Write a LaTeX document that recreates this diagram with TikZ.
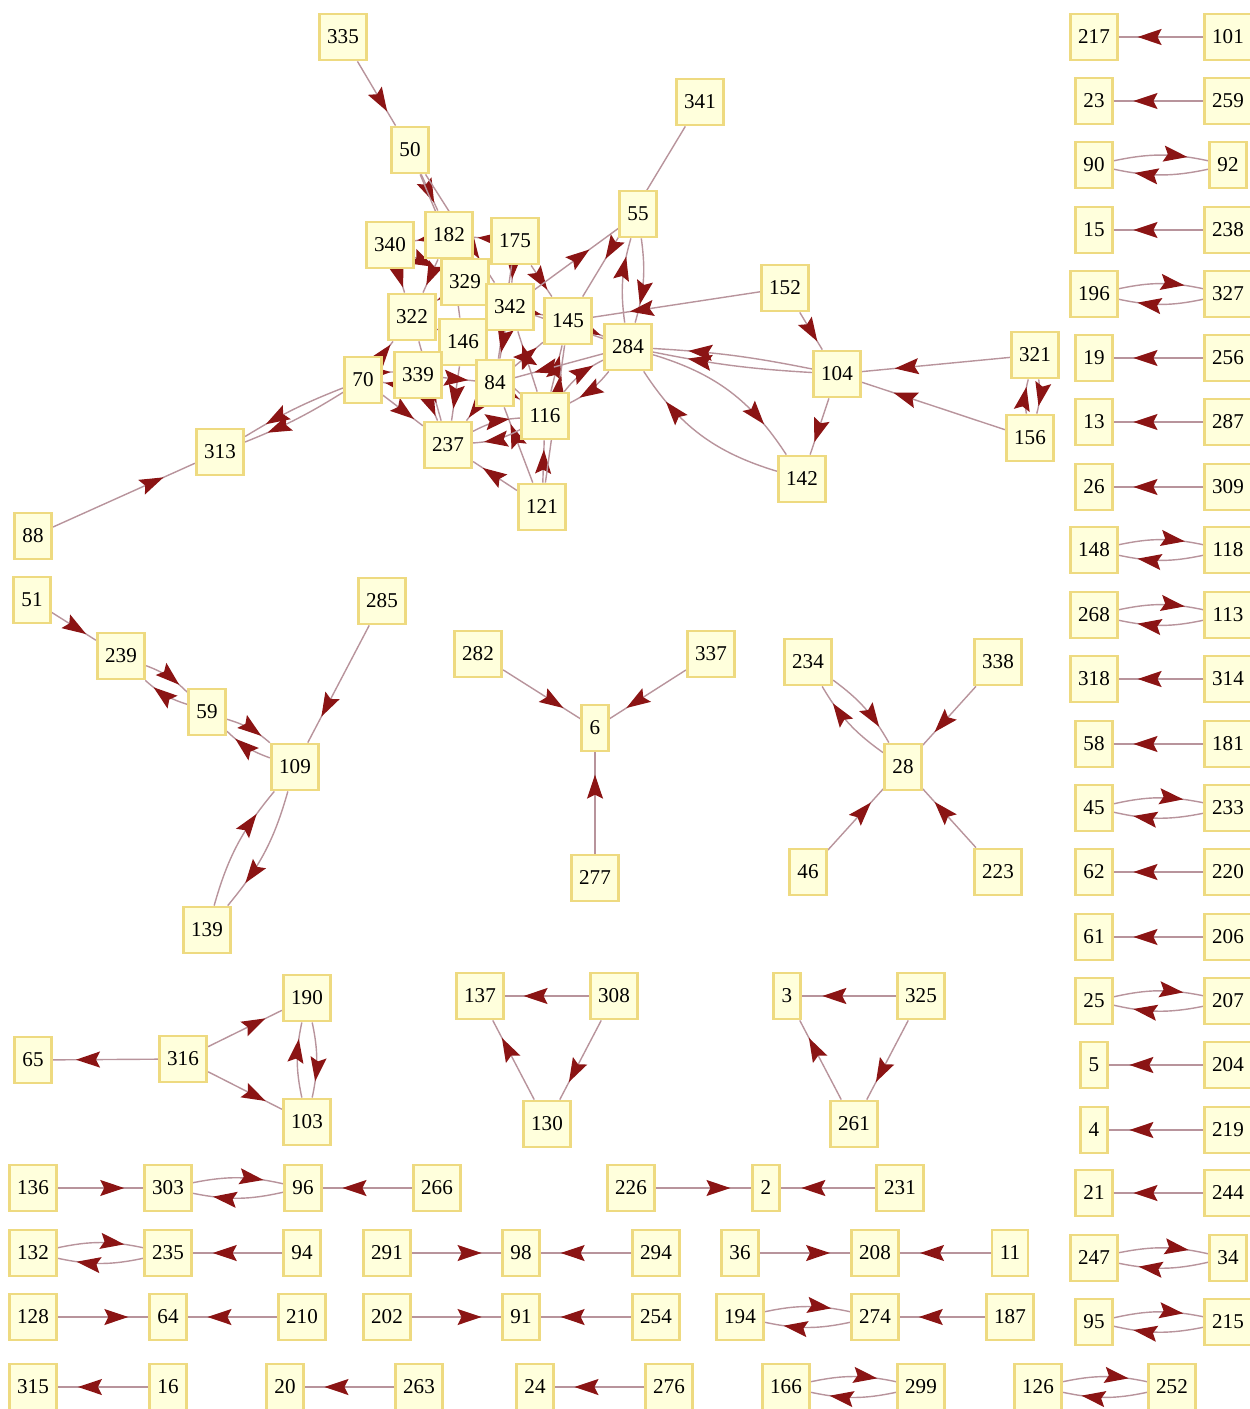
\documentclass[tikz,border=0pt]{standalone}
\usepackage{fontspec}
\setmainfont{Liberation Serif}
\usepackage{tikz}
\usetikzlibrary{arrows.meta,decorations.markings,backgrounds}

\definecolor{boxfill}{HTML}{FFFFDC}
\definecolor{boxline}{HTML}{EEDA80}
\definecolor{edgeline}{HTML}{B8949C}
\definecolor{tipred}{HTML}{8B1414}

\begin{document}
\begin{tikzpicture}[x=0.02cm,y=-0.02cm,
  vert/.style={draw=boxline,line width=1.6pt,fill=boxfill,minimum height=0.92cm,
    minimum width=0.5cm,inner xsep=4.5pt,font=\fontsize{12}{14}\selectfont},
  link/.style={draw=edgeline,line width=0.8pt,postaction={decorate},
    decoration={markings,mark=at position 0.78 with
      {\arrow{Stealth[length=4.8mm,width=3.2mm,inset=0.8mm,color=tipred]}}}},
  twin/.style={link,bend left=12}]
\useasboundingbox (0,0) rectangle (1249,1409);
% big component
\node[vert] (n335) at (343,37) {335};
\node[vert] (n50) at (410,150) {50};
\node[vert] (n341) at (700,102) {341};
\node[vert] (n55) at (638,214) {55};
\node[vert] (n340) at (390,245) {340};
\node[vert] (n182) at (449,235) {182};
\node[vert] (n175) at (515,241) {175};
\node[vert] (n329) at (465,282) {329};
\node[vert] (n342) at (510,307) {342};
\node[vert] (n322) at (412,317) {322};
\node[vert] (n145) at (568,321) {145};
\node[vert] (n146) at (463,342) {146};
\node[vert] (n284) at (628,347) {284};
\node[vert] (n152) at (785,288) {152};
\node[vert] (n104) at (837,374) {104};
\node[vert] (n321) at (1035,355) {321};
\node[vert] (n156) at (1030,438) {156};
\node[vert] (n142) at (802,479) {142};
\node[vert] (n70) at (363,380) {70};
\node[vert] (n339) at (418,375) {339};
\node[vert] (n84) at (495,383) {84};
\node[vert] (n116) at (545,416) {116};
\node[vert] (n237) at (448,445) {237};
\node[vert] (n121) at (542,507) {121};
\node[vert] (n313) at (220,452) {313};
\node[vert] (n88) at (33,536) {88};
% middle groups
\node[vert] (n51) at (32,600) {51};
\node[vert] (n239) at (121,656) {239};
\node[vert] (n59) at (207,712) {59};
\node[vert] (n109) at (295,767) {109};
\node[vert] (n285) at (382,601) {285};
\node[vert] (n139) at (207,930) {139};
\node[vert] (n282) at (478,654) {282};
\node[vert] (n337) at (711,654) {337};
\node[vert] (n6) at (595,728) {6};
\node[vert] (n277) at (595,878) {277};
\node[vert] (n234) at (808,662) {234};
\node[vert] (n338) at (998,662) {338};
\node[vert] (n28) at (903,767) {28};
\node[vert] (n46) at (808,872) {46};
\node[vert] (n223) at (998,872) {223};
\node[vert] (n65) at (33,1060) {65};
\node[vert] (n316) at (183,1059) {316};
\node[vert] (n190) at (307,998) {190};
\node[vert] (n103) at (307,1122) {103};
\node[vert] (n137) at (480,996) {137};
\node[vert] (n308) at (614,996) {308};
\node[vert] (n130) at (547,1124) {130};
\node[vert] (n3) at (787,996) {3};
\node[vert] (n325) at (921,996) {325};
\node[vert] (n261) at (854,1124) {261};
% bottom rows
\node[vert] (n136) at (33,1188) {136};
\node[vert] (n303) at (168,1188) {303};
\node[vert] (n96) at (303,1188) {96};
\node[vert] (n266) at (437,1188) {266};
\node[vert] (n226) at (631,1188) {226};
\node[vert] (n2) at (766,1188) {2};
\node[vert] (n231) at (900,1188) {231};
\node[vert] (n132) at (33,1253) {132};
\node[vert] (n235) at (168,1253) {235};
\node[vert] (n94) at (302,1253) {94};
\node[vert] (n291) at (387,1253) {291};
\node[vert] (n98) at (521,1253) {98};
\node[vert] (n294) at (656,1253) {294};
\node[vert] (n36) at (740,1253) {36};
\node[vert] (n208) at (875,1253) {208};
\node[vert] (n11) at (1010,1253) {11};
\node[vert] (n128) at (33,1317) {128};
\node[vert] (n64) at (168,1317) {64};
\node[vert] (n210) at (302,1317) {210};
\node[vert] (n202) at (387,1317) {202};
\node[vert] (n91) at (521,1317) {91};
\node[vert] (n254) at (656,1317) {254};
\node[vert] (n194) at (740,1317) {194};
\node[vert] (n274) at (875,1317) {274};
\node[vert] (n187) at (1010,1317) {187};
\node[vert] (n315) at (33,1387) {315};
\node[vert] (n16) at (168,1387) {16};
\node[vert] (n20) at (285,1387) {20};
\node[vert] (n263) at (419,1387) {263};
\node[vert] (n24) at (535,1387) {24};
\node[vert] (n276) at (669,1387) {276};
\node[vert] (n166) at (786,1387) {166};
\node[vert] (n299) at (921,1387) {299};
\node[vert] (n126) at (1038,1387) {126};
\node[vert] (n252) at (1172,1387) {252};
% right column
\node[vert] (n217) at (1094,37) {217};
\node[vert] (n101) at (1228,37) {101};
\node[vert] (n23) at (1094,101) {23};
\node[vert] (n259) at (1228,101) {259};
\node[vert] (n90) at (1094,165) {90};
\node[vert] (n92) at (1228,165) {92};
\node[vert] (n15) at (1094,230) {15};
\node[vert] (n238) at (1228,230) {238};
\node[vert] (n196) at (1094,294) {196};
\node[vert] (n327) at (1228,294) {327};
\node[vert] (n19) at (1094,358) {19};
\node[vert] (n256) at (1228,358) {256};
\node[vert] (n13) at (1094,422) {13};
\node[vert] (n287) at (1228,422) {287};
\node[vert] (n26) at (1094,487) {26};
\node[vert] (n309) at (1228,487) {309};
\node[vert] (n148) at (1094,550) {148};
\node[vert] (n118) at (1228,550) {118};
\node[vert] (n268) at (1094,615) {268};
\node[vert] (n113) at (1228,615) {113};
\node[vert] (n318) at (1094,679) {318};
\node[vert] (n314) at (1228,679) {314};
\node[vert] (n58) at (1094,744) {58};
\node[vert] (n181) at (1228,744) {181};
\node[vert] (n45) at (1094,808) {45};
\node[vert] (n233) at (1228,808) {233};
\node[vert] (n62) at (1094,872) {62};
\node[vert] (n220) at (1228,872) {220};
\node[vert] (n61) at (1094,937) {61};
\node[vert] (n206) at (1228,937) {206};
\node[vert] (n25) at (1094,1001) {25};
\node[vert] (n207) at (1228,1001) {207};
\node[vert] (n5) at (1094,1065) {5};
\node[vert] (n204) at (1228,1065) {204};
\node[vert] (n4) at (1094,1130) {4};
\node[vert] (n219) at (1228,1130) {219};
\node[vert] (n21) at (1094,1193) {21};
\node[vert] (n244) at (1228,1193) {244};
\node[vert] (n247) at (1094,1258) {247};
\node[vert] (n34) at (1228,1258) {34};
\node[vert] (n95) at (1094,1322) {95};
\node[vert] (n215) at (1228,1322) {215};

\begin{scope}[on background layer]
% edges of the big component
\draw[link] (n335) -- (n50);
\draw[link] (n50) -- (n182);
\draw[link] (n50) -- (n329);
\draw[link] (n50) -- (n342);
\draw[link] (n175) -- (n182);
\draw[link] (n182) -- (n340);
\draw[link] (n340) -- (n322);
\draw[link] (n340) -- (n329);
\draw[link] (n182) -- (n322);
\draw[link] (n182) -- (n146);
\draw[link] (n329) -- (n322);
\draw[link] (n175) -- (n145);
\draw[link] (n175) -- (n342);
\draw[link] (n175) -- (n84);
\draw[link] (n329) -- (n342);
\draw[link] (n342) -- (n145);
\draw[link] (n322) -- (n146);
\draw[link] (n146) -- (n342);
\draw[link] (n145) -- (n284);
\draw[link] (n342) -- (n284);
\draw[link] (n342) -- (n84);
\draw[link] (n146) -- (n84);
\draw[link] (n84) -- (n145);
\draw[link] (n116) -- (n145);
\draw[link] (n116) -- (n342);
\draw[link] (n146) -- (n116);
\draw[link] (n84) -- (n116);
\draw[twin] (n284) to (n116);
\draw[twin] (n116) to (n284);
\draw[link] (n284) -- (n84);
\draw[link] (n121) -- (n116);
\draw[link] (n121) -- (n84);
\draw[link] (n121) -- (n237);
\draw[link] (n121) -- (n145);
\draw[twin] (n237) to (n116);
\draw[twin] (n116) to (n237);
\draw[link] (n84) -- (n237);
\draw[link] (n146) -- (n237);
\draw[link] (n339) -- (n237);
\draw[link] (n339) -- (n84);
\draw[link] (n322) -- (n237);
\draw[link] (n70) -- (n237);
\draw[link] (n70) -- (n322);
\draw[twin] (n70) to (n339);
\draw[twin] (n339) to (n70);
\draw[link,bend left=5] (n70) to (n313);
\draw[link,bend right=5] (n70) to (n313);
\draw[link] (n88) -- (n313);
\draw[link] (n146) -- (n55);
\draw[link] (n341) -- (n145);
\draw[twin] (n55) to (n284);
\draw[twin] (n284) to (n55);
\draw[link] (n152) -- (n145);
\draw[link] (n152) -- (n104);
\draw[link,bend left=4] (n104) to (n284);
\draw[link,bend right=4] (n104) to (n284);
\draw[link,bend left=20] (n284) to (n142);
\draw[link,bend left=20] (n142) to (n284);
\draw[link] (n104) -- (n142);
\draw[link] (n321) -- (n104);
\draw[link] (n156) -- (n104);
\draw[twin] (n321) to (n156);
\draw[twin] (n156) to (n321);
% middle groups
\draw[link] (n51) -- (n239);
\draw[twin] (n239) to (n59);
\draw[twin] (n59) to (n239);
\draw[twin] (n59) to (n109);
\draw[twin] (n109) to (n59);
\draw[link] (n285) -- (n109);
\draw[twin] (n109) to (n139);
\draw[twin] (n139) to (n109);
\draw[link] (n282) -- (n6);
\draw[link] (n337) -- (n6);
\draw[link] (n277) -- (n6);
\draw[twin] (n234) to (n28);
\draw[twin] (n28) to (n234);
\draw[link] (n338) -- (n28);
\draw[link] (n46) -- (n28);
\draw[link] (n223) -- (n28);
\draw[link] (n316) -- (n65);
\draw[link] (n316) -- (n190);
\draw[link] (n316) -- (n103);
\draw[twin] (n190) to (n103);
\draw[twin] (n103) to (n190);
\draw[link] (n308) -- (n137);
\draw[link] (n308) -- (n130);
\draw[link] (n130) -- (n137);
\draw[link] (n325) -- (n3);
\draw[link] (n325) -- (n261);
\draw[link] (n261) -- (n3);
% bottom rows
\draw[link] (n136) -- (n303);
\draw[twin] (n303) to (n96);
\draw[twin] (n96) to (n303);
\draw[link] (n266) -- (n96);
\draw[link] (n226) -- (n2);
\draw[link] (n231) -- (n2);
\draw[twin] (n132) to (n235);
\draw[twin] (n235) to (n132);
\draw[link] (n94) -- (n235);
\draw[link] (n291) -- (n98);
\draw[link] (n294) -- (n98);
\draw[link] (n36) -- (n208);
\draw[link] (n11) -- (n208);
\draw[link] (n128) -- (n64);
\draw[link] (n210) -- (n64);
\draw[link] (n202) -- (n91);
\draw[link] (n254) -- (n91);
\draw[twin] (n194) to (n274);
\draw[twin] (n274) to (n194);
\draw[link] (n187) -- (n274);
\draw[link] (n16) -- (n315);
\draw[link] (n263) -- (n20);
\draw[link] (n276) -- (n24);
\draw[twin] (n166) to (n299);
\draw[twin] (n299) to (n166);
\draw[twin] (n126) to (n252);
\draw[twin] (n252) to (n126);
% right column
\draw[link] (n101) -- (n217);
\draw[link] (n259) -- (n23);
\draw[twin] (n90) to (n92);
\draw[twin] (n92) to (n90);
\draw[link] (n238) -- (n15);
\draw[twin] (n196) to (n327);
\draw[twin] (n327) to (n196);
\draw[link] (n256) -- (n19);
\draw[link] (n287) -- (n13);
\draw[link] (n309) -- (n26);
\draw[twin] (n148) to (n118);
\draw[twin] (n118) to (n148);
\draw[twin] (n268) to (n113);
\draw[twin] (n113) to (n268);
\draw[link] (n314) -- (n318);
\draw[link] (n181) -- (n58);
\draw[twin] (n45) to (n233);
\draw[twin] (n233) to (n45);
\draw[link] (n220) -- (n62);
\draw[link] (n206) -- (n61);
\draw[twin] (n25) to (n207);
\draw[twin] (n207) to (n25);
\draw[link] (n204) -- (n5);
\draw[link] (n219) -- (n4);
\draw[link] (n244) -- (n21);
\draw[twin] (n247) to (n34);
\draw[twin] (n34) to (n247);
\draw[twin] (n95) to (n215);
\draw[twin] (n215) to (n95);
\end{scope}
\end{tikzpicture}
\end{document}
